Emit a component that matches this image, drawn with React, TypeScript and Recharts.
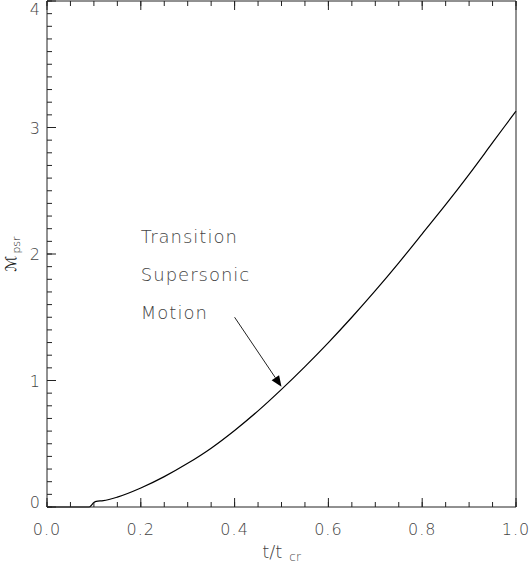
import React from "react";
import {
  LineChart,
  Line,
  XAxis,
  YAxis,
  ReferenceLine,
  ReferenceDot,
  Label,
} from "recharts";

// time in units of t_cr
const times = [
  0, 0.05, 0.09, 0.1, 0.105, 0.12, 0.15, 0.2, 0.25, 0.3, 0.35, 0.4, 0.45, 0.5,
  0.55, 0.6, 0.65, 0.7, 0.75, 0.8, 0.85, 0.9, 0.95, 1.0,
];
// pulsar Mach number
const mach = [
  0, 0, 0, 0.035, 0.045, 0.05, 0.078, 0.15, 0.24, 0.345, 0.465, 0.605, 0.76,
  0.93, 1.11, 1.3, 1.5, 1.71, 1.93, 2.16, 2.39, 2.63, 2.88, 3.13,
];

const xMajor = [0, 0.2, 0.4, 0.6, 0.8, 1.0];
const yMajor = [0, 1, 2, 3, 4];
const xTicks = Array.from({ length: 21 }, (_, i) => i / 20);
const yTicks = Array.from({ length: 41 }, (_, i) => i / 10);

const noteLines = ["Transition", "Supersonic", "Motion"];
const noteX = 0.2;
const noteY = [2.09, 1.79, 1.49];
const arrowFrom = { t: 0.4, m: 1.5 };
const arrowTo = { t: 0.5, m: 0.95 };

const data = times.map((t, i) => ({ t, m: mach[i] }));

const AXIS = "#222";
const TEXT = "#444";
const FONT = "'DejaVu Sans', sans-serif";
const MINOR = 5; // built-in inward tick length
const MAJOR = 9;

const isIn = (v: number, list: number[]) =>
  list.some((m) => Math.abs(m - v) < 1e-6);

// the built-in tickLine draws the short (minor) mark on every tick;
// the custom tick adds the longer mark on majors plus the label
const BottomTick = (props: any) => {
  const { x, y, payload } = props;
  const major = isIn(payload.value, xMajor);
  const base = y + MINOR;
  return (
    <g>
      {major && (
        <line x1={x} x2={x} y1={base} y2={base - MAJOR} stroke={AXIS} />
      )}
      {major && (
        <text
          x={x}
          y={base + 28}
          textAnchor="middle"
          fill={TEXT}
          fontSize={16}
          fontWeight={200}
          fontFamily={FONT}
          letterSpacing={1}
        >
          {payload.value.toFixed(1)}
        </text>
      )}
    </g>
  );
};

const TopTick = (props: any) => {
  const { x, y, payload } = props;
  const major = isIn(payload.value, xMajor);
  const base = y - MINOR;
  return major ? (
    <line x1={x} x2={x} y1={base} y2={base + MAJOR} stroke={AXIS} />
  ) : (
    <g />
  );
};

const LeftTick = (props: any) => {
  const { x, y, payload } = props;
  const v = payload.value;
  const major = isIn(v, yMajor);
  const base = x - MINOR;
  // keep the end labels inside the frame like the original
  let ly = y + 6;
  if (Math.abs(v - 4) < 1e-6) ly += 8;
  if (Math.abs(v) < 1e-6) ly -= 5;
  return (
    <g>
      {major && (
        <line x1={base} x2={base + MAJOR} y1={y} y2={y} stroke={AXIS} />
      )}
      {major && (
        <text
          x={base - 7}
          y={ly}
          textAnchor="end"
          fill={TEXT}
          fontSize={16}
          fontWeight={200}
          fontFamily={FONT}
        >
          {v.toFixed(0)}
        </text>
      )}
    </g>
  );
};

const RightTick = (props: any) => {
  const { x, y, payload } = props;
  const major = isIn(payload.value, yMajor);
  const base = x + MINOR;
  return major ? (
    <line x1={base} x2={base - MAJOR} y1={y} y2={y} stroke={AXIS} />
  ) : (
    <g />
  );
};

const XTitle = (props: any) => {
  const { x, y, width } = props.viewBox;
  return (
    <text
      x={x + width / 2}
      y={y + 51}
      textAnchor="middle"
      fill={TEXT}
      fontSize={18}
      fontWeight={200}
      fontFamily={FONT}
    >
      t/t
      <tspan fontSize={12} dx={7} dy={3}>
        cr
      </tspan>
    </text>
  );
};

const YTitle = (props: any) => {
  const { x, y, height } = props.viewBox;
  const cx = x - 30;
  const cy = y + height / 2;
  return (
    <text
      x={cx}
      y={cy}
      textAnchor="middle"
      fill="#222"
      fontFamily={FONT}
      transform={`rotate(-90, ${cx}, ${cy})`}
    >
      <tspan fontSize={15} fontStyle="italic">
        ℳ
      </tspan>
      <tspan fontSize={11} fontWeight={200} dx={2} dy={4}>
        psr
      </tspan>
    </text>
  );
};

const Arrow = (props: any) => {
  const { x1, y1, x2, y2 } = props;
  const dx = x2 - x1;
  const dy = y2 - y1;
  const len = Math.sqrt(dx * dx + dy * dy);
  const ux = dx / len;
  const uy = dy / len;
  const hl = 11;
  const hw = 4.5;
  const bx = x2 - ux * hl;
  const by = y2 - uy * hl;
  const pts = `${x2},${y2} ${bx - uy * hw},${by + ux * hw} ${bx + uy * hw},${by - ux * hw}`;
  return (
    <g>
      <line x1={x1} y1={y1} x2={bx} y2={by} stroke="#222" strokeWidth={1} />
      <polygon points={pts} fill="#000" />
    </g>
  );
};

const noteShape = (text: string) => (props: any) => (
  <text
    x={props.cx}
    y={props.cy}
    fill={TEXT}
    fontSize={18}
    fontWeight={200}
    fontFamily={FONT}
    letterSpacing={1}
  >
    {text}
  </text>
);

const axisCommon = {
  interval: 0 as const,
  tickSize: -MINOR,
  tickMargin: 0,
  tickLine: { stroke: AXIS },
  axisLine: { stroke: AXIS },
};

export default function App() {
  return (
    <div style={{ position: "absolute", left: 0, top: 0 }}>
      <LineChart
        width={529}
        height={563}
        data={data}
        margin={{ top: 0, right: 12, bottom: 55, left: 46 }}
      >
        <XAxis
          xAxisId="b"
          dataKey="t"
          type="number"
          domain={[0, 1]}
          ticks={xTicks}
          height={1}
          tick={<BottomTick />}
          {...axisCommon}
        >
          <Label content={<XTitle />} />
        </XAxis>
        <XAxis
          xAxisId="t"
          orientation="top"
          dataKey="t"
          type="number"
          domain={[0, 1]}
          ticks={xTicks}
          height={1}
          tick={<TopTick />}
          {...axisCommon}
        />
        <YAxis
          yAxisId="l"
          type="number"
          domain={[0, 4]}
          ticks={yTicks}
          width={1}
          tick={<LeftTick />}
          {...axisCommon}
        >
          <Label content={<YTitle />} />
        </YAxis>
        <YAxis
          yAxisId="r"
          orientation="right"
          type="number"
          domain={[0, 4]}
          ticks={yTicks}
          width={1}
          tick={<RightTick />}
          {...axisCommon}
        />
        <Line
          xAxisId="b"
          yAxisId="l"
          type="monotone"
          dataKey="m"
          stroke="#000"
          strokeWidth={1.2}
          dot={false}
          isAnimationActive={false}
        />
        {noteLines.map((s, i) => (
          <ReferenceDot
            key={s}
            xAxisId="b"
            yAxisId="l"
            x={noteX}
            y={noteY[i]}
            r={0}
            shape={noteShape(s)}
          />
        ))}
        <ReferenceLine
          xAxisId="b"
          yAxisId="l"
          segment={[
            { x: arrowFrom.t, y: arrowFrom.m },
            { x: arrowTo.t, y: arrowTo.m },
          ]}
          shape={Arrow}
        />
      </LineChart>
    </div>
  );
}
